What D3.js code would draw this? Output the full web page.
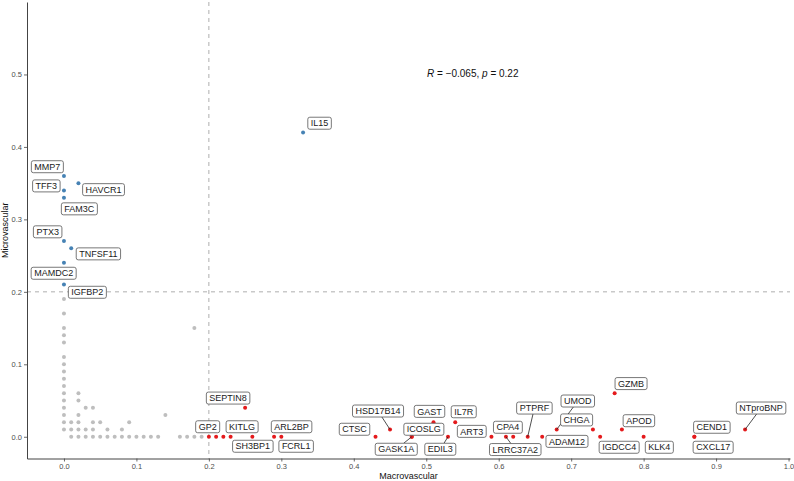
<!DOCTYPE html>
<html><head><meta charset="utf-8">
<script src="https://cdn.jsdelivr.net/npm/d3@7"></script>
<style>body{margin:0;background:#fff}svg{display:block}</style>
</head><body>
<svg id="chart" width="794" height="481"></svg>
<script>
// ---- data ----
const geneNames = ["MMP7","TFF3","HAVCR1","FAM3C","PTX3","TNFSF11","MAMDC2","IGFBP2","IL15",
  "SEPTIN8","GP2","KITLG","SH3BP1","ARL2BP","FCRL1","CTSC","HSD17B14","GAST","IL7R","ICOSLG","GASK1A","EDIL3",
  "ART3","CPA4","LRRC37A2","PTPRF","ADAM12","UMOD","CHGA","IGDCC4","GZMB","APOD","KLK4","CEND1","CXCL17","NTproBNP"];
const geneMacro = [0,0,0.02,0,0,0.01,0,0,0.33,
  0.25,0.20,0.23,0.26,0.29,0.30,0.43,0.45,0.51,0.54,0.48,0.48,0.53,
  0.59,0.62,0.61,0.64,0.66,0.68,0.73,0.74,0.76,0.77,0.80,0.87,0.87,0.94];
const geneMicro = [0.36,0.34,0.35,0.33,0.27,0.26,0.24,0.21,0.42,
  0.04,0,0,0,0,0,0,0.01,0.02,0.02,0,0,0,
  0,0,0,0,0,0.01,0.01,0,0.06,0.01,0,0,0,0.01];
const geneGroup = ["micro","micro","micro","micro","micro","micro","micro","micro","micro",
  "macro","macro","macro","macro","macro","macro","macro","macro","macro","macro","macro","macro","macro",
  "macro","macro","macro","macro","macro","macro","macro","macro","macro","macro","macro","macro","macro","macro"];

const otherMacro = [0,0,0,0,0,0,0,0,0,0,0,0,0,0,0,0, 0.01,0.01,0.01, 0.02,0.02,0.02,0.02,0.02,0.02,
  0.03,0.03,0.03, 0.04,0.04,0.04,0.04, 0.05,0.05, 0.06,0.06, 0.07, 0.08,0.08, 0.09,0.09,
  0.10,0.11,0.12,0.13, 0.14, 0.16,0.17,0.18,0.19, 0.18, 0.21,0.22];
const otherMicro = [0.01,0.02,0.03,0.04,0.05,0.06,0.07,0.08,0.09,0.10,0.11,0.13,0.14,0.15,0.17,0.19,
  0.02,0.01,0, 0.06,0.05,0.03,0.02,0.01,0, 0.04,0.01,0, 0.04,0.02,0.01,0, 0.02,0, 0.01,0, 0,
  0.01,0, 0.02,0, 0,0,0,0, 0.03, 0,0,0,0, 0.15, 0,0];
const otherGroup = otherMacro.map((d,i)=> i>=51 ? "macro" : "none");

const xTicks = [0,0.1,0.2,0.3,0.4,0.5,0.6,0.7,0.8,0.9,1.0];
const yTicks = [0,0.1,0.2,0.3,0.4,0.5];
const threshold = 0.2;
const statR = "−0.065", statP = "0.22";

// ---- label layout (pixel offsets of label centre from its point; seg = leader line) ----
const labelLayout = {
  MMP7:[-16.6,-9.2], TFF3:[-17.6,-4.5], HAVCR1:[25.1,6.5], FAM3C:[15.4,11.2], PTX3:[-16.3,-9.3],
  TNFSF11:[27.2,5.5], MAMDC2:[-10.3,10.4], IGFBP2:[23.4,7.7], IL15:[16.5,-9.2],
  SEPTIN8:[-17,-9.7], GP2:[-1.2,-10], KITLG:[11.5,-10], SH3BP1:[0.5,9.5], ARL2BP:[17.5,-10], FCRL1:[14.8,9.5],
  CTSC:[-21,-7.5], HSD17B14:[-12,-18.5,1], GAST:[-4,-10.9], IL7R:[8.5,-10.5], ICOSLG:[12.1,-7.5],
  GASK1A:[-15.5,12.5,1], EDIL3:[-7.7,12.5,1], ART3:[-19.7,-5.4], CPA4:[-5.3,-9.5], LRRC37A2:[9.3,12.8,1],
  PTPRF:[6.7,-28.7,1], ADAM12:[24.8,4.6], UMOD:[21.1,-28.5,1], CHGA:[-16.3,-9.6], IGDCC4:[19,10.5],
  GZMB:[16.4,-9.7], APOD:[17,-8.8], KLK4:[15.7,10.5], CEND1:[17.5,-9.5], CXCL17:[18.8,10.5], NTproBNP:[16,-21.5,1]
};

const colors = {micro:"#4682B4", macro:"#E41A1C", none:"#BEBEBE"};
const FONT = "'Liberation Sans', Arial, Helvetica, sans-serif";

const svg = d3.select("#chart").style("font-family", FONT);
const L = 27, R = 790, T = 2, B = 458.5;
const x = d3.scaleLinear().domain([-0.051, 1.002]).range([L, R]);
const y = d3.scaleLinear().domain([-0.03, 0.6]).range([B, T]);

// dashed reference lines
svg.append("line").attr("x1", x(threshold)).attr("x2", x(threshold)).attr("y1", T).attr("y2", B)
  .attr("stroke", "#9a9a9a").attr("stroke-width", 0.8).attr("stroke-dasharray", "4,4");
svg.append("line").attr("x1", L).attr("x2", R).attr("y1", y(threshold)).attr("y2", y(threshold))
  .attr("stroke", "#9a9a9a").attr("stroke-width", 0.8).attr("stroke-dasharray", "4,4");

// axes
const xAxis = svg.append("g").attr("transform", `translate(0,${B})`)
  .call(d3.axisBottom(x).tickValues(xTicks).tickFormat(d3.format(".1f")).tickSizeInner(3).tickSizeOuter(0).tickPadding(2));
const yAxis = svg.append("g").attr("transform", `translate(${L},0)`)
  .call(d3.axisLeft(y).tickValues(yTicks).tickFormat(d3.format(".1f")).tickSizeInner(3).tickSizeOuter(0).tickPadding(2));
[xAxis, yAxis].forEach(g => {
  g.select(".domain").attr("stroke", "#444").attr("stroke-width", 1);
  g.selectAll(".tick line").attr("stroke", "#444").attr("stroke-width", 0.8);
  g.selectAll(".tick text").attr("fill", "#4D4D4D").style("font-size", "7.5px").style("font-family", FONT);
});

svg.append("text").attr("x", (L + R) / 2).attr("y", 479).attr("text-anchor", "middle")
  .style("font-size", "9px").attr("fill", "#111").text("Macrovascular");
svg.append("text").attr("transform", `translate(8,${(T + B) / 2}) rotate(-90)`).attr("text-anchor", "middle")
  .style("font-size", "9px").attr("fill", "#111").text("Microvascular");

// stat annotation
const ann = svg.append("text").attr("x", 427).attr("y", 77).style("font-size", "10px").attr("fill", "#111");
ann.append("tspan").style("font-style", "italic").text("R");
ann.append("tspan").text(" = " + statR + ", ");
ann.append("tspan").style("font-style", "italic").text("p");
ann.append("tspan").text(" = " + statP);

// points
const others = otherMacro.map((m, i) => ({m, v: otherMicro[i], g: otherGroup[i]}));
const genes = geneNames.map((n, i) => ({n, m: geneMacro[i], v: geneMicro[i], g: geneGroup[i]}));
svg.append("g").selectAll("circle").data(others.filter(d => d.g === "none")).join("circle")
  .attr("cx", d => x(d.m)).attr("cy", d => y(d.v)).attr("r", 2).attr("fill", colors.none);
svg.append("g").selectAll("circle").data(others.filter(d => d.g !== "none").concat(genes)).join("circle")
  .attr("cx", d => x(d.m)).attr("cy", d => y(d.v)).attr("r", 2).attr("fill", d => colors[d.g]);

// labels
const segG = svg.append("g"), labG = svg.append("g");
genes.forEach(d => {
  const lay = labelLayout[d.n];
  const px = x(d.m), py = y(d.v);
  const cx = px + lay[0], cy = py + lay[1];
  const g = labG.append("g");
  const rect = g.append("rect");
  const t = g.append("text").attr("x", cx).attr("y", cy + 3.2).attr("text-anchor", "middle")
    .style("font-size", "9px").attr("fill", "#1a1a1a").text(d.n);
  const w = t.node().getComputedTextLength() + 6, h = 12;
  rect.attr("x", cx - w / 2).attr("y", cy - h / 2).attr("width", w).attr("height", h)
    .attr("rx", 2).attr("fill", "#fff").attr("stroke", "#555").attr("stroke-width", 0.8);
  if (lay[2]) {
    const dx = cx - px, dy = cy - py;
    const tx = Math.abs(dx) > 0 ? (Math.abs(dx) - w / 2) / Math.abs(dx) : Infinity;
    const ty = Math.abs(dy) > 0 ? (Math.abs(dy) - h / 2) / Math.abs(dy) : Infinity;
    const tt = Math.max(Math.min(tx < 0 ? Infinity : tx, ty < 0 ? Infinity : ty), 0);
    const s = Math.max(tx, ty);
    segG.append("line").attr("x1", px).attr("y1", py).attr("x2", px + dx * s).attr("y2", py + dy * s)
      .attr("stroke", "#222").attr("stroke-width", 0.8);
  }
});
</script>
</body></html>
